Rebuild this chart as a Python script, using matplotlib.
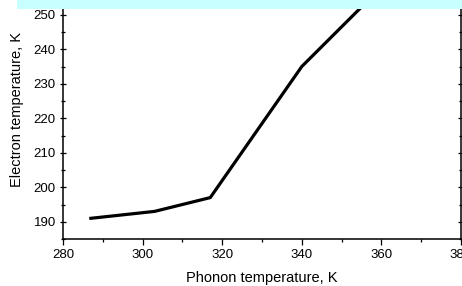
import matplotlib
matplotlib.use("Agg")
import matplotlib.pyplot as plt
from matplotlib.ticker import MultipleLocator
from matplotlib.patches import Rectangle

# phonon vs electron temperature (K)
phonon_t = [287, 303, 317, 340, 360]
electron_t = [191, 193, 197, 235, 258]

plt.rcParams["font.family"] = ["Liberation Sans", "DejaVu Sans"]

fig = plt.figure(figsize=(4.62, 2.86), dpi=100)
ax = fig.add_axes([63 / 462, 47 / 286, 398 / 462, 258.75 / 286])

ax.plot(phonon_t, electron_t, color="black", lw=2.3, solid_joinstyle="miter")

ax.set_xlim(280, 380)
ax.set_ylim(185, 260)
ax.xaxis.set_major_locator(MultipleLocator(20))
ax.xaxis.set_minor_locator(MultipleLocator(10))
ax.yaxis.set_major_locator(MultipleLocator(10))
ax.yaxis.set_minor_locator(MultipleLocator(5))

ax.tick_params(axis="both", which="major", direction="out", length=4.5, width=0.9,
               labelsize=9.5, pad=3)
ax.tick_params(axis="both", which="minor", direction="out", length=2.5, width=0.9)
ax.tick_params(axis="y", which="both", right=True, direction="inout")

for s in ax.spines.values():
    s.set_linewidth(1.1)
ax.spines["top"].set_visible(False)

ax.set_xlabel("Phonon temperature, K", fontsize=10.5, labelpad=7)
ax.set_ylabel("Electron temperature, K", fontsize=10.5, labelpad=7)

# light cyan band over the top of the image
fig.patches.append(Rectangle((17 / 462, 277 / 286), 1, 9 / 286, transform=fig.transFigure,
                             facecolor="#C8FFFF", edgecolor="none", zorder=10))

fig.savefig("out.png", dpi=100)
